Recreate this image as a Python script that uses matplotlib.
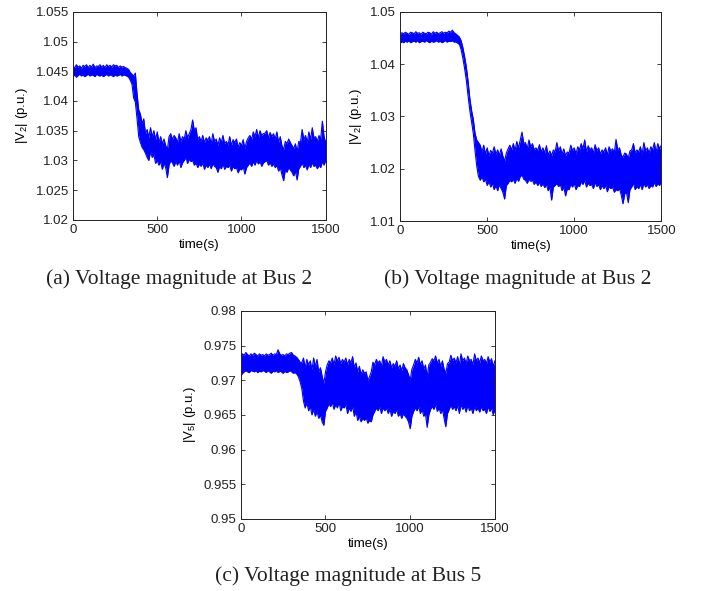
import numpy as np
import matplotlib
matplotlib.use("Agg")
import matplotlib.pyplot as plt

plt.rcParams["font.family"] = ["Liberation Sans", "DejaVu Sans"]
plt.rcParams["mathtext.default"] = "regular"

# each trace is a dense noisy band: upper / lower edge read every 10 s (0..1500 s)

# --- (a) |V2| ---
v2a_hi = [
    1.0458, 1.0456, 1.0461, 1.0457, 1.0459, 1.0455, 1.0460, 1.0458, 1.0461, 1.0456,
    1.0460, 1.0457, 1.0462, 1.0456, 1.0459, 1.0458, 1.0461, 1.0457, 1.0460, 1.0456,
    1.0461, 1.0458, 1.0460, 1.0457, 1.0461, 1.0459, 1.0460, 1.0456, 1.0459, 1.0457,
    1.0458, 1.0456, 1.0455, 1.0453,
    1.0448, 1.0445, 1.0442, 1.0447, 1.0412, 1.0385, 1.0378, 1.0362, 1.0370, 1.0345,
    1.0352, 1.0338,
    1.0355, 1.0340, 1.0350, 1.0335, 1.0348, 1.0330, 1.0340, 1.0328, 1.0336, 1.0325,
    1.0318, 1.0340, 1.0345, 1.0335, 1.0342, 1.0338, 1.0330, 1.0345, 1.0332, 1.0340,
    1.0336, 1.0350, 1.0338, 1.0345, 1.0352, 1.0368, 1.0350, 1.0355, 1.0335, 1.0340,
    1.0332, 1.0342, 1.0330, 1.0338, 1.0334, 1.0340, 1.0328, 1.0345, 1.0332, 1.0336,
    1.0325, 1.0338, 1.0330, 1.0342, 1.0328, 1.0332, 1.0326, 1.0340, 1.0325, 1.0335,
    1.0330, 1.0336, 1.0322, 1.0330, 1.0325, 1.0335, 1.0320, 1.0332, 1.0338, 1.0342,
    1.0335, 1.0348, 1.0340, 1.0352, 1.0338, 1.0350, 1.0342, 1.0345, 1.0346, 1.0350,
    1.0338, 1.0347, 1.0340, 1.0345, 1.0336, 1.0348, 1.0330, 1.0340, 1.0325, 1.0318,
    1.0332, 1.0328, 1.0336, 1.0330, 1.0325, 1.0320, 1.0328, 1.0315, 1.0332, 1.0330,
    1.0352, 1.0335, 1.0342, 1.0330, 1.0348, 1.0335, 1.0355, 1.0338, 1.0340, 1.0332,
    1.0342, 1.0336, 1.0366, 1.0340, 1.0330,
]
v2a_lo = [
    1.0441, 1.0444, 1.0440, 1.0443, 1.0445, 1.0442, 1.0444, 1.0441, 1.0443, 1.0445,
    1.0442, 1.0444, 1.0443, 1.0441, 1.0445, 1.0443, 1.0442, 1.0444, 1.0441, 1.0443,
    1.0445, 1.0442, 1.0444, 1.0443, 1.0441, 1.0444, 1.0442, 1.0443, 1.0445, 1.0442,
    1.0444, 1.0443, 1.0442, 1.0440,
    1.0435, 1.0428, 1.0405, 1.0398, 1.0370, 1.0340, 1.0330, 1.0322, 1.0318, 1.0312,
    1.0305, 1.0300,
    1.0315, 1.0305, 1.0310, 1.0295, 1.0300, 1.0292, 1.0298, 1.0285, 1.0295, 1.0288,
    1.0271, 1.0292, 1.0300, 1.0296, 1.0290, 1.0298, 1.0292, 1.0300, 1.0288, 1.0296,
    1.0300, 1.0305, 1.0295, 1.0302, 1.0298, 1.0300, 1.0292, 1.0296, 1.0288, 1.0294,
    1.0290, 1.0296, 1.0285, 1.0292, 1.0288, 1.0294, 1.0286, 1.0295, 1.0290, 1.0288,
    1.0280, 1.0290, 1.0286, 1.0294, 1.0285, 1.0290, 1.0288, 1.0292, 1.0282, 1.0290,
    1.0286, 1.0288, 1.0279, 1.0286, 1.0284, 1.0290, 1.0277, 1.0288, 1.0292, 1.0296,
    1.0290, 1.0298, 1.0292, 1.0300, 1.0294, 1.0298, 1.0290, 1.0296, 1.0298, 1.0300,
    1.0292, 1.0296, 1.0290, 1.0294, 1.0288, 1.0292, 1.0282, 1.0288, 1.0276, 1.0266,
    1.0284, 1.0280, 1.0288, 1.0284, 1.0280, 1.0274, 1.0282, 1.0267, 1.0286, 1.0290,
    1.0296, 1.0288, 1.0292, 1.0284, 1.0294, 1.0288, 1.0296, 1.0290, 1.0292, 1.0286,
    1.0292, 1.0288, 1.0298, 1.0292, 1.0300,
]

# --- (b) |V2| ---
v2b_hi = [
    1.0457, 1.0460, 1.0458, 1.0461, 1.0459, 1.0457, 1.0461, 1.0460, 1.0458, 1.0462,
    1.0459, 1.0460, 1.0457, 1.0461, 1.0459, 1.0458, 1.0461, 1.0460, 1.0457, 1.0462,
    1.0459, 1.0461, 1.0458, 1.0460, 1.0462, 1.0459, 1.0461, 1.0460, 1.0463, 1.0461,
    1.0465, 1.0460, 1.0458, 1.0455,
    1.0452, 1.0445, 1.0432, 1.0415, 1.0395, 1.0368, 1.0335, 1.0312, 1.0295, 1.0268,
    1.0255, 1.0250, 1.0245,
    1.0232, 1.0245, 1.0228, 1.0240, 1.0225, 1.0235, 1.0230, 1.0242, 1.0228, 1.0236,
    1.0226, 1.0238, 1.0224, 1.0215, 1.0230, 1.0238, 1.0245, 1.0236, 1.0248, 1.0235,
    1.0252, 1.0240, 1.0255, 1.0270, 1.0248, 1.0250, 1.0238, 1.0255, 1.0242, 1.0248,
    1.0236, 1.0240, 1.0235, 1.0246, 1.0232, 1.0240, 1.0230, 1.0244, 1.0226, 1.0234,
    1.0225, 1.0236, 1.0232, 1.0250, 1.0234, 1.0242, 1.0228, 1.0238, 1.0225, 1.0232,
    1.0230, 1.0245, 1.0235, 1.0240, 1.0228, 1.0242, 1.0236, 1.0248, 1.0238, 1.0255,
    1.0232, 1.0244, 1.0236, 1.0240, 1.0230, 1.0246, 1.0234, 1.0240, 1.0228, 1.0236,
    1.0232, 1.0240, 1.0226, 1.0242, 1.0234, 1.0238, 1.0230, 1.0256, 1.0236, 1.0240,
    1.0226, 1.0222, 1.0230, 1.0228, 1.0220, 1.0234, 1.0236, 1.0248, 1.0230, 1.0236,
    1.0232, 1.0242, 1.0228, 1.0250, 1.0234, 1.0240, 1.0230, 1.0242, 1.0236, 1.0250,
    1.0232, 1.0248, 1.0238, 1.0245,
]
v2b_lo = [
    1.0440, 1.0443, 1.0441, 1.0444, 1.0442, 1.0445, 1.0441, 1.0443, 1.0444, 1.0442,
    1.0445, 1.0441, 1.0443, 1.0444, 1.0442, 1.0445, 1.0443, 1.0441, 1.0444, 1.0442,
    1.0443, 1.0445, 1.0442, 1.0444, 1.0441, 1.0443, 1.0445, 1.0442, 1.0444, 1.0443,
    1.0445, 1.0442, 1.0443, 1.0440,
    1.0438, 1.0428, 1.0412, 1.0392, 1.0370, 1.0340, 1.0312, 1.0290, 1.0268, 1.0235,
    1.0205, 1.0185, 1.0178,
    1.0185, 1.0175, 1.0180, 1.0168, 1.0176, 1.0165, 1.0172, 1.0160, 1.0168, 1.0158,
    1.0170, 1.0162, 1.0155, 1.0142, 1.0168, 1.0172, 1.0178, 1.0175, 1.0180, 1.0172,
    1.0182, 1.0176, 1.0185, 1.0188, 1.0180, 1.0178, 1.0172, 1.0180, 1.0176, 1.0178,
    1.0170, 1.0175, 1.0168, 1.0174, 1.0166, 1.0172, 1.0164, 1.0170, 1.0158, 1.0165,
    1.0140, 1.0165, 1.0168, 1.0172, 1.0166, 1.0170, 1.0158, 1.0165, 1.0148, 1.0162,
    1.0160, 1.0170, 1.0165, 1.0172, 1.0160, 1.0168, 1.0166, 1.0175, 1.0170, 1.0178,
    1.0165, 1.0172, 1.0168, 1.0170, 1.0162, 1.0174, 1.0166, 1.0170, 1.0160, 1.0168,
    1.0162, 1.0168, 1.0156, 1.0166, 1.0162, 1.0165, 1.0155, 1.0160, 1.0158, 1.0162,
    1.0150, 1.0133, 1.0152, 1.0155, 1.0135, 1.0160, 1.0165, 1.0172, 1.0160, 1.0166,
    1.0162, 1.0170, 1.0160, 1.0172, 1.0165, 1.0170, 1.0162, 1.0168, 1.0165, 1.0174,
    1.0166, 1.0172, 1.0168, 1.0175,
]

# --- (c) |V5| ---
v5c_hi = [
    0.9735, 0.9738, 0.9736, 0.9740, 0.9737, 0.9735, 0.9738, 0.9736, 0.9739, 0.9737,
    0.9735, 0.9738, 0.9736, 0.9737, 0.9735, 0.9738, 0.9736, 0.9737, 0.9739, 0.9736,
    0.9738, 0.9737, 0.9744, 0.9738, 0.9736, 0.9737, 0.9735, 0.9738, 0.9737, 0.9739,
    0.9740, 0.9736, 0.9735, 0.9733,
    0.9730, 0.9726, 0.9725, 0.9732, 0.9718, 0.9730, 0.9722, 0.9728, 0.9715, 0.9732,
    0.9720, 0.9730, 0.9712, 0.9718, 0.9706, 0.9695, 0.9712, 0.9722, 0.9728, 0.9725,
    0.9732, 0.9722, 0.9735, 0.9728, 0.9733, 0.9724, 0.9730, 0.9726, 0.9732, 0.9722,
    0.9730, 0.9725, 0.9734, 0.9718, 0.9725, 0.9712, 0.9720, 0.9708, 0.9715, 0.9710,
    0.9712, 0.9700, 0.9705, 0.9712, 0.9726, 0.9722, 0.9730, 0.9725, 0.9728, 0.9720,
    0.9734, 0.9726, 0.9730, 0.9722, 0.9728, 0.9718, 0.9724, 0.9720, 0.9728, 0.9716,
    0.9722, 0.9714, 0.9724, 0.9718, 0.9715, 0.9708, 0.9700, 0.9716, 0.9722, 0.9730,
    0.9725, 0.9733, 0.9722, 0.9728, 0.9716, 0.9722, 0.9705, 0.9722, 0.9726, 0.9731,
    0.9728, 0.9735, 0.9724, 0.9730, 0.9720, 0.9728, 0.9716, 0.9710, 0.9724, 0.9726,
    0.9736, 0.9728, 0.9732, 0.9725, 0.9734, 0.9722, 0.9738, 0.9728, 0.9732, 0.9724,
    0.9735, 0.9728, 0.9730, 0.9722, 0.9738, 0.9728, 0.9732, 0.9725, 0.9735, 0.9728,
    0.9730, 0.9724, 0.9734, 0.9726, 0.9731, 0.9720, 0.9728,
]
v5c_lo = [
    0.9706, 0.9710, 0.9712, 0.9714, 0.9712, 0.9711, 0.9714, 0.9713, 0.9712, 0.9714,
    0.9711, 0.9713, 0.9712, 0.9714, 0.9713, 0.9711, 0.9714, 0.9712, 0.9710, 0.9713,
    0.9712, 0.9714, 0.9711, 0.9713, 0.9712, 0.9710, 0.9713, 0.9711, 0.9712, 0.9714,
    0.9712, 0.9710, 0.9711, 0.9709,
    0.9705, 0.9698, 0.9688, 0.9670, 0.9660, 0.9668, 0.9656, 0.9662, 0.9650, 0.9658,
    0.9648, 0.9655, 0.9645, 0.9650, 0.9640, 0.9635, 0.9655, 0.9660, 0.9666, 0.9662,
    0.9668, 0.9658, 0.9665, 0.9660, 0.9668, 0.9656, 0.9662, 0.9660, 0.9665, 0.9652,
    0.9660, 0.9655, 0.9662, 0.9648, 0.9655, 0.9642, 0.9648, 0.9640, 0.9645, 0.9642,
    0.9646, 0.9638, 0.9642, 0.9640, 0.9650, 0.9655, 0.9660, 0.9656, 0.9662, 0.9652,
    0.9660, 0.9656, 0.9660, 0.9652, 0.9658, 0.9648, 0.9655, 0.9652, 0.9658, 0.9648,
    0.9652, 0.9645, 0.9652, 0.9648, 0.9645, 0.9640, 0.9630, 0.9648, 0.9655, 0.9660,
    0.9656, 0.9662, 0.9652, 0.9658, 0.9648, 0.9652, 0.9632, 0.9650, 0.9658, 0.9662,
    0.9658, 0.9665, 0.9655, 0.9660, 0.9652, 0.9658, 0.9645, 0.9633, 0.9652, 0.9658,
    0.9664, 0.9658, 0.9662, 0.9656, 0.9664, 0.9652, 0.9665, 0.9658, 0.9662, 0.9654,
    0.9664, 0.9656, 0.9660, 0.9652, 0.9662, 0.9656, 0.9660, 0.9654, 0.9662, 0.9656,
    0.9658, 0.9652, 0.9662, 0.9655, 0.9660, 0.9650, 0.9658,
]

x_ticks = [0, 500, 1000, 1500]
yticks_a = [1.02, 1.025, 1.03, 1.035, 1.04, 1.045, 1.05, 1.055]
yticks_b = [1.01, 1.02, 1.03, 1.04, 1.05]
yticks_c = [0.95, 0.955, 0.96, 0.965, 0.97, 0.975, 0.98]

captions = [
    "(a) Voltage magnitude at Bus 2",
    "(b) Voltage magnitude at Bus 2",
    "(c) Voltage magnitude at Bus 5",
]


def fmt(v):
    return ("%.3f" % v).rstrip("0").rstrip(".")


def draw_panel(ax, hi, lo, yticks, ylabel):
    t = np.linspace(0, 1500, len(hi))
    ax.fill_between(t, lo, hi, color="#0000ff", linewidth=0)
    ax.plot(t, hi, color="#0000ff", linewidth=0.8)
    ax.plot(t, lo, color="#0000ff", linewidth=0.8)
    ax.set_xlim(0, 1500)
    ax.set_ylim(yticks[0], yticks[-1])
    ax.set_xticks(x_ticks)
    ax.set_yticks(yticks)
    ax.set_yticklabels([fmt(v) for v in yticks])
    ax.tick_params(direction="in", top=True, right=True, labelsize=9.5,
                   length=3, width=0.6, pad=3, colors="#222222")
    for sp in ax.spines.values():
        sp.set_linewidth(0.7)
        sp.set_color("#222222")
    ax.set_xlabel("time(s)", fontsize=9.5, labelpad=2)
    ax.set_ylabel(ylabel, fontsize=9.5, labelpad=4)


fig = plt.figure(figsize=(7.02, 5.91), dpi=100)

ax_a = fig.add_axes([0.104, 0.628, 0.360, 0.352])
draw_panel(ax_a, v2a_hi, v2a_lo, yticks_a, "|V$_2$| (p.u.)")

ax_b = fig.add_axes([0.570, 0.626, 0.372, 0.354])
draw_panel(ax_b, v2b_hi, v2b_lo, yticks_b, "|V$_2$| (p.u.)")

ax_c = fig.add_axes([0.343, 0.122, 0.362, 0.352])
draw_panel(ax_c, v5c_hi, v5c_lo, yticks_c, "|V$_5$| (p.u.)")

cap_kw = dict(ha="center", va="center", fontsize=15.5,
              family=["Liberation Serif", "DejaVu Serif"], color="#222222")
fig.text(179 / 702, 1 - 279 / 591, captions[0], **cap_kw)
fig.text(518 / 702, 1 - 279 / 591, captions[1], **cap_kw)
fig.text(348 / 702, 1 - 576 / 591, captions[2], **cap_kw)

fig.savefig("out.png", dpi=100)
